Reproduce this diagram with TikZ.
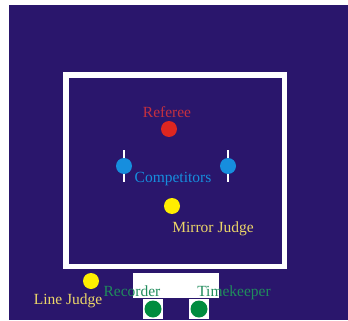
\documentclass[tikz,border=0pt]{standalone}
\usepackage{fontspec}
\setmainfont{Liberation Serif}
\definecolor{matblue}{RGB}{42,22,108}
\definecolor{refred}{RGB}{222,38,32}
\definecolor{reftext}{RGB}{196,48,64}
\definecolor{compblue}{RGB}{22,142,222}
\definecolor{judgeyellow}{RGB}{255,238,0}
\definecolor{judgetext}{RGB}{236,214,104}
\definecolor{deskgreen}{RGB}{0,140,62}
\definecolor{desktext}{RGB}{32,140,92}
\tikzset{
  official/.style = {circle, inner sep = 0pt, minimum size = 16pt},
  role/.style = {anchor = base, inner sep = 0pt,
    font = \fontsize{15.5}{18}\selectfont},
}
\begin{document}
\begin{tikzpicture}[x = 1pt, y = -1pt]
    \useasboundingbox (0, 0) rectangle (348, 321);
    \fill[matblue] (9, 5) rectangle (348, 320);

    % contest area
    \draw[white, line width = 5.5pt] (66, 75) rectangle (284.5, 266.5);

    % officials table
    \fill[white] (133, 273) rectangle (219, 298);
    \fill[white] (143, 299) rectangle (163, 319);
    \fill[white] (189, 299) rectangle (209, 319);

    \node[official, fill = refred] (referee) at (169, 129) {};

    \draw[white, line width = 2.5pt] (124, 150) -- (124, 182);
    \draw[white, line width = 2.5pt] (228, 150) -- (228, 182);
    \node[official, fill = compblue] (compA) at (124, 166) {};
    \node[official, fill = compblue] (compB) at (228, 166) {};

    \node[official, fill = judgeyellow] (mirror) at (172, 206) {};
    \node[official, fill = judgeyellow] (line) at (91, 281) {};

    \node[official, fill = deskgreen, minimum size = 17pt] (recorder) at (153, 309) {};
    \node[official, fill = deskgreen, minimum size = 17pt] (timer) at (199, 309) {};

    \node[role, text = reftext] at (167, 117) {Referee};
    \node[role, text = compblue] at (173, 182) {Competitors};
    \node[role, text = judgetext] at (213, 232) {Mirror Judge};
    \node[role, text = judgetext] at (68, 304) {Line Judge};
    \node[role, text = desktext] at (132, 296) {Recorder};
    \node[role, text = desktext] at (234, 296) {Timekeeper};

  \end{tikzpicture}
\end{document}
